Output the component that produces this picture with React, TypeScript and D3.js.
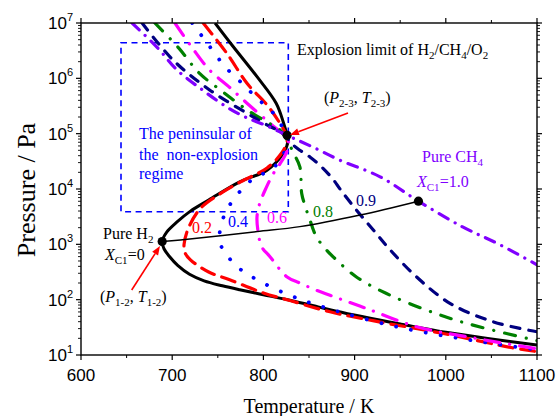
import React from "react";
import * as d3 from "d3";

// Explosion limits of H2/CH4/O2 mixtures: temperature (K) and pressure (Pa)
const tempH2 = [747, 767, 793, 814, 822, 826, 827, 822, 804, 774, 740, 720, 705, 694, 689, 691, 697, 706, 719, 735, 755, 774, 800, 829, 860, 880, 950, 1000, 1050, 1100];
const presH2 = [1.0e7, 3.72e6, 1.07e6, 3.55e5, 1.58e5, 9.33e4, 7.41e4, 4.47e4, 2.19e4, 1.35e4, 6.31e3, 3.98e3, 2.51e3, 1.66e3, 1.12e3, 832, 603, 417, 288, 219, 178, 151, 123, 97.7, 74.1, 61.7, 36.3, 25.7, 19.5, 15.1];

const tempX02 = [734, 760, 782, 805, 818, 825, 826, 820, 804, 775, 754, 731, 718, 713, 714, 720, 740, 763, 800, 830, 873, 920, 1000, 1073, 1100];
const presX02 = [1.0e7, 2.82e6, 8.13e5, 3.16e5, 1.55e5, 9.55e4, 7.24e4, 4.47e4, 2.4e4, 1.35e4, 8.51e3, 4.47e3, 2.0e3, 1.0e3, 708, 525, 316, 229, 132, 95.5, 60.3, 41.7, 24.0, 13.5, 11.5];

const tempX04 = [722, 740, 758, 776, 793, 811, 823, 827, 824, 812, 787, 771, 758, 752, 753, 758, 771, 793, 829, 865, 946, 1027, 1089, 1100];
const presX04 = [1.0e7, 3.98e6, 1.62e6, 8.32e5, 4.37e5, 2.34e5, 1.12e5, 7.59e4, 5.01e4, 2.51e4, 1.45e4, 7.76e3, 3.63e3, 1.58e3, 1.0e3, 708, 398, 229, 120, 74.1, 32.4, 18.6, 13.2, 12.6];

const tempX06 = [703, 722, 741, 762, 782, 807, 824, 828, 825, 818, 811, 803, 796, 793, 794, 798, 807, 826, 840, 858, 873, 913, 968, 1023, 1100];
const presX06 = [1.0e7, 3.55e6, 1.41e6, 7.08e5, 3.55e5, 1.55e5, 8.91e4, 6.61e4, 4.47e4, 2.82e4, 1.91e4, 1.05e4, 5.5e3, 3.16e3, 1.78e3, 912, 603, 257, 200, 148, 120, 69.2, 32.4, 21.4, 12.9];

const tempX08 = [681, 707, 730, 756, 782, 805, 818, 827, 833, 840, 842, 846, 851, 858, 869, 880, 902, 935, 979, 1023, 1100];
const presX08 = [1.0e7, 3.55e6, 1.23e6, 5.62e5, 2.69e5, 1.58e5, 1.17e5, 7.08e4, 4.47e4, 2.51e4, 8.32e3, 4.79e3, 2.75e3, 1.38e3, 794, 525, 257, 129, 64.6, 37.2, 18.2];

const tempX09 = [667, 701, 741, 782, 805, 822, 831, 840, 851, 865, 877, 884, 902, 921, 939, 968, 1005, 1052, 1100];
const presX09 = [1.0e7, 2.14e6, 6.17e5, 2.34e5, 1.41e5, 1.0e5, 6.61e4, 5.01e4, 3.8e4, 2.4e4, 1.45e4, 1.0e4, 4.17e3, 1.78e3, 794, 257, 85.1, 39.8, 26.3];

const tempCH4 = [656, 684, 706, 734, 760, 780, 804, 830, 854, 884, 928, 970, 1019, 1056, 1100];
const presCH4 = [1.0e7, 3.55e6, 1.38e6, 6.03e5, 3.02e5, 2.0e5, 1.38e5, 8.71e4, 5.75e4, 3.31e4, 1.66e4, 6.03e3, 2.04e3, 1.05e3, 427];

// Line joining the first-to-second limit transition points
const tempTransition = [689, 709, 793, 840, 906, 970];
const presTransition = [1.12e3, 1.2e3, 1.7e3, 2.09e3, 3.39e3, 6.03e3];

// Marked points: (P1-2, T1-2), (P2-3, T2-3), pure CH4 end point
const markTemp = [689, 826, 970];
const markPres = [1.12e3, 9.33e4, 6.03e3];

const xTicks = [600, 700, 800, 900, 1000, 1100];
const xMinor = [650, 750, 850, 950, 1050];
const yExponents = [1, 2, 3, 4, 5, 6, 7];

const W = 559;
const H = 416;
const L = 81, R = 537, T = 23, B = 355;

const x = d3.scaleLinear().domain([600, 1100]).range([L, R]);
const y = d3.scaleLog().domain([10, 1e7]).range([B, T]);

const serif = "'Liberation Serif', 'Times New Roman', serif";
const sans = "'Liberation Sans', Arial, sans-serif";

type Series = { t: number[]; p: number[]; color: string; dash: string; width: number };

const series: Series[] = [
  { t: tempH2, p: presH2, color: "#000000", dash: "", width: 3 },
  { t: tempX02, p: presX02, color: "#ff0000", dash: "14,8", width: 3.2 },
  { t: tempX04, p: presX04, color: "#0000ff", dash: "0.1,15", width: 3.8 },
  { t: tempX06, p: presX06, color: "#ff00ff", dash: "15,10,0.1,10", width: 3.2 },
  { t: tempX08, p: presX08, color: "#008000", dash: "11,11,0.1,11", width: 3.2 },
  { t: tempX09, p: presX09, color: "#000080", dash: "9,9", width: 3.2 },
  { t: tempCH4, p: presCH4, color: "#8000ff", dash: "10,8,0.1,8", width: 3.2 },
];

const line = d3
  .line<[number, number]>()
  .x((d) => x(d[0]))
  .y((d) => y(d[1]))
  .curve(d3.curveCatmullRom.alpha(0.5));

const zip = (t: number[], p: number[]) => t.map((v, i) => [v, p[i]] as [number, number]);

function Arrow({ x1, y1, x2, y2 }: { x1: number; y1: number; x2: number; y2: number }) {
  const a = Math.atan2(y2 - y1, x2 - x1);
  const len = 9, half = 3.5;
  const bx = x2 - len * Math.cos(a), by = y2 - len * Math.sin(a);
  const p1 = [bx + half * Math.sin(a), by - half * Math.cos(a)];
  const p2 = [bx - half * Math.sin(a), by + half * Math.cos(a)];
  return (
    <g>
      <line x1={x1} y1={y1} x2={bx} y2={by} stroke="#ff0000" strokeWidth={1.6} />
      <polygon points={`${x2},${y2} ${p1[0]},${p1[1]} ${p2[0]},${p2[1]}`} fill="#ff0000" />
    </g>
  );
}

export default function App() {
  const yMinor: number[] = [];
  for (let e = 1; e < 7; e++) for (let j = 2; j <= 9; j++) yMinor.push(j * Math.pow(10, e));

  return (
    <div style={{ position: "fixed", left: 0, top: 0 }}>
      <svg width={W} height={H} style={{ display: "block", background: "#fff" }}>
        <defs>
          <clipPath id="plot">
            <rect x={L} y={T} width={R - L} height={B - T} />
          </clipPath>
        </defs>

        {/* region of the non-explosion peninsula */}
        <rect x={121} y={42.7} width={167.3} height={169} fill="none" stroke="#0000ff" strokeWidth={1.6} strokeDasharray="6,4.5" />

        <g clipPath="url(#plot)">
          {series.map((s, i) => (
            <path
              key={i}
              d={line(zip(s.t, s.p)) || ""}
              fill="none"
              stroke={s.color}
              strokeWidth={s.width}
              strokeDasharray={s.dash || undefined}
              strokeLinecap={s.dash ? "round" : "butt"}
              strokeLinejoin="round"
            />
          ))}
          <path d={line(zip(tempTransition, presTransition)) || ""} fill="none" stroke="#000" strokeWidth={1.5} />
        </g>

        {markTemp.map((t, i) => (
          <circle key={i} cx={x(t)} cy={y(markPres[i])} r={4.6} fill="#000" />
        ))}

        {/* frame */}
        <rect x={L} y={T} width={R - L} height={B - T} fill="none" stroke="#000" strokeWidth={1.4} />

        {/* x ticks */}
        {xTicks.map((v) => (
          <g key={v}>
            <line x1={x(v)} x2={x(v)} y1={B} y2={B + 5} stroke="#000" strokeWidth={1.2} />
            <line x1={x(v)} x2={x(v)} y1={T} y2={T - 5} stroke="#000" strokeWidth={1.2} />
            <text x={x(v)} y={381} textAnchor="middle" fontFamily={sans} fontSize={17}>{v}</text>
          </g>
        ))}
        {xMinor.map((v) => (
          <g key={v}>
            <line x1={x(v)} x2={x(v)} y1={B} y2={B + 3} stroke="#000" strokeWidth={1} />
            <line x1={x(v)} x2={x(v)} y1={T} y2={T - 3} stroke="#000" strokeWidth={1} />
          </g>
        ))}

        {/* y ticks */}
        {yExponents.map((e) => {
          const v = Math.pow(10, e);
          return (
            <g key={e}>
              <line x1={L} x2={L - 5} y1={y(v)} y2={y(v)} stroke="#000" strokeWidth={1.2} />
              <line x1={R} x2={R + 5} y1={y(v)} y2={y(v)} stroke="#000" strokeWidth={1.2} />
              <text x={73} y={y(v) + 6} textAnchor="end" fontFamily={sans} fontSize={17}>
                10<tspan dy={-8} fontSize={11}>{e}</tspan>
              </text>
            </g>
          );
        })}
        {yMinor.map((v) => (
          <g key={v}>
            <line x1={L} x2={L - 3} y1={y(v)} y2={y(v)} stroke="#000" strokeWidth={0.9} />
            <line x1={R} x2={R + 3} y1={y(v)} y2={y(v)} stroke="#000" strokeWidth={0.9} />
          </g>
        ))}

        {/* axis titles */}
        <text x={309} y={413} textAnchor="middle" fontFamily={serif} fontSize={20}>Temperature / K</text>
        <text transform="translate(35,190) rotate(-90)" textAnchor="middle" fontFamily={serif} fontSize={26}>Pressure / Pa</text>

        {/* annotations */}
        <text x={297} y={55} fontFamily={serif} fontSize={16}>
          Explosion limit of H<tspan dy={4} fontSize={11}>2</tspan>
          <tspan dy={-4}>/CH</tspan><tspan dy={4} fontSize={11}>4</tspan>
          <tspan dy={-4}>/O</tspan><tspan dy={4} fontSize={11}>2</tspan>
        </text>

        <text x={324} y={103} fontFamily={serif} fontSize={16}>
          (<tspan fontStyle="italic">P</tspan><tspan dy={4} fontSize={11}>2-3</tspan>
          <tspan dy={-4}>, </tspan><tspan fontStyle="italic">T</tspan><tspan dy={4} fontSize={11}>2-3</tspan>
          <tspan dy={-4}>)</tspan>
        </text>
        <Arrow x1={348} y1={113} x2={290} y2={135} />

        <g fontFamily={serif} fontSize={16} fill="#0000ff">
          <text x={139} y={139}>The peninsular of</text>
          <text x={139} y={159.5}>{"the\u00a0 non-explosion"}</text>
          <text x={139} y={179}>regime</text>
        </g>

        <text x={103} y={239} fontFamily={serif} fontSize={16}>
          Pure H<tspan dy={4} fontSize={11}>2</tspan>
        </text>
        <text x={105} y={260} fontFamily={serif} fontSize={16}>
          <tspan fontStyle="italic">X</tspan><tspan dy={4} fontSize={11}>C1</tspan>
          <tspan dy={-4}>=0</tspan>
        </text>
        <text x={100} y={302} fontFamily={serif} fontSize={16}>
          (<tspan fontStyle="italic">P</tspan><tspan dy={4} fontSize={11}>1-2</tspan>
          <tspan dy={-4}>, </tspan><tspan fontStyle="italic">T</tspan><tspan dy={4} fontSize={11}>1-2</tspan>
          <tspan dy={-4}>)</tspan>
        </text>
        <Arrow x1={131.7} y1={290} x2={160} y2={246} />

        <g fontFamily={serif} fontSize={16} textAnchor="middle">
          <text x={202} y={233} fill="#ff0000">0.2</text>
          <text x={238} y={227} fill="#0000ff">0.4</text>
          <text x={277} y={223} fill="#ff00ff">0.6</text>
          <text x={323} y={217} fill="#008000">0.8</text>
          <text x={366} y={205.5} fill="#000080">0.9</text>
        </g>

        <text x={422} y={162} fontFamily={serif} fontSize={16} fill="#8000ff">
          Pure CH<tspan dy={4} fontSize={11}>4</tspan>
        </text>
        <text x={417} y={187} fontFamily={serif} fontSize={16} fill="#8000ff">
          <tspan fontStyle="italic">X</tspan><tspan dy={4} fontSize={11}>C1</tspan>
          <tspan dy={-4}>=1.0</tspan>
        </text>
      </svg>
    </div>
  );
}
